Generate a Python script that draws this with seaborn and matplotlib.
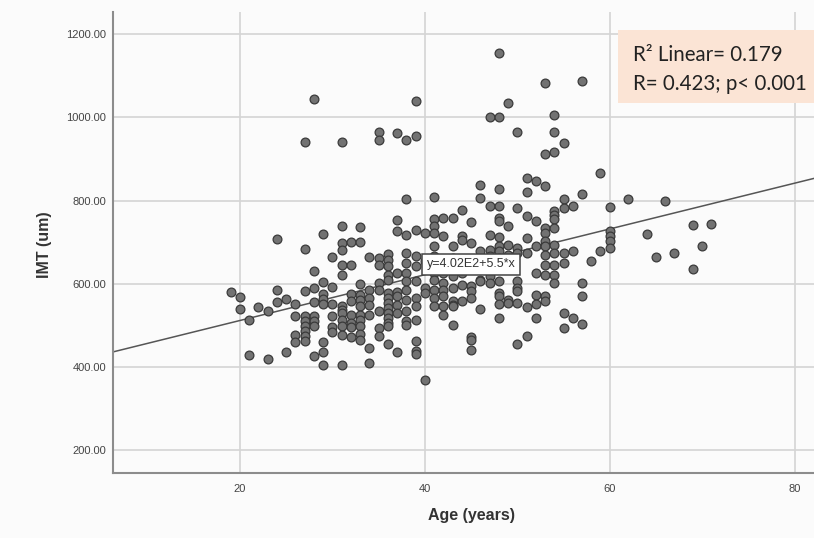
import numpy as np
import pandas as pd
import matplotlib
matplotlib.use("Agg")
import matplotlib.pyplot as plt
import seaborn as sns
from matplotlib.patches import Rectangle

# ==================================================
# Daten
# ==================================================
age_values = [19, 20, 21, 22, 23, 24, 25, 26, 27, 28, 29, 30, 31, 32, 33, 34, 35, 36, 37, 38,
              39, 40, 41, 42, 43, 44, 45, 46, 47, 48, 49, 50, 51, 52, 53, 54, 55, 56, 57, 58,
              59, 60, 62, 64, 65, 66, 67, 69, 70, 71]

imt_values = [
    [580],
    [568, 540],
    [512, 430],
    [545],
    [534, 419],
    [708, 586, 556],
    [564, 437],
    [552, 522, 478, 460],
    [940, 684, 583, 522, 510, 498, 486, 474, 462],
    [1044, 630, 591, 557, 522, 510, 498, 426],
    [720, 605, 576, 564, 552, 460, 436, 404],
    [664, 592, 551, 522, 496, 484],
    [940, 740, 698, 682, 645, 621, 546, 538, 530, 514, 498, 477, 404],
    [700, 645, 576, 560, 526, 506, 496, 472],
    [736, 701, 599, 574, 562, 546, 526, 512, 498, 480, 464],
    [664, 586, 566, 550, 524, 446, 410],
    [964, 947, 662, 645, 601, 586, 534, 494, 474],
    [672, 658, 642, 622, 610, 578, 566, 554, 542, 530, 518, 506, 498, 456],
    [962, 754, 728, 626, 580, 570, 550, 530, 436],
    [947, 804, 718, 674, 650, 626, 608, 586, 562, 534, 510, 502],
    [1040, 956, 730, 666, 642, 608, 566, 548, 514, 462, 438, 432],
    [722, 654, 590, 578, 369],
    [808, 756, 738, 722, 690, 666, 650, 626, 610, 586, 566, 546],
    [758, 714, 650, 626, 602, 586, 570, 546, 524],
    [758, 690, 662, 618, 590, 558, 550, 546, 500],
    [778, 714, 706, 626, 598, 558],
    [748, 698, 658, 594, 582, 566, 472, 464, 440],
    [838, 806, 678, 658, 610, 606, 540],
    [1000, 788, 718, 682, 666, 618, 602],
    [1156, 1000, 828, 788, 758, 750, 712, 690, 678, 662, 606, 578, 570, 552, 518],
    [1035, 738, 694, 670, 562, 554],
    [966, 782, 686, 674, 606, 590, 582, 554, 456],
    [855, 820, 762, 710, 674, 544, 474],
    [847, 750, 690, 626, 574, 552, 518],
    [1083, 912, 835, 734, 722, 702, 690, 670, 646, 622, 572, 560],
    [1006, 964, 916, 776, 766, 756, 734, 694, 674, 646, 622, 602],
    [938, 804, 782, 674, 650, 530, 494],
    [786, 680, 518],
    [1088, 816, 602, 572, 504],
    [654],
    [866, 678],
    [784, 726, 714, 702, 686],
    [804],
    [720],
    [665],
    [800],
    [674],
    [742, 636],
    [691],
    [744],
]

x_ticks = [20, 40, 60, 80]
y_ticks = [200, 400, 600, 800, 1000, 1200]

fit_intercept = 402.0
fit_slope = 5.5
fit_label = "y=4.02E2+5.5*x"
stats_line_1 = "R² Linear= 0.179"
stats_line_2 = "R= 0.423; p< 0.001"

df = pd.DataFrame({
    "Age": np.repeat(age_values, [len(v) for v in imt_values]),
    "IMT": np.concatenate([np.array(v, dtype=float) for v in imt_values]),
})

# ==================================================
# Plot
# ==================================================
sns.set_theme(style="whitegrid")
plt.rcParams["font.family"] = ["Liberation Sans", "DejaVu Sans"]

bg = "#FBFBFB"
fig = plt.figure(figsize=(8.14, 5.38), dpi=100, facecolor=bg)
ax = fig.add_axes([0.1388, 0.1208, 0.8612, 0.857])
ax.set_facecolor(bg)

ax.set_xlim(6.26, 82.1)
ax.set_ylim(145.4, 1253.6)

sns.scatterplot(data=df, x="Age", y="IMT", ax=ax, s=40, color="#727272",
                edgecolor="#3A3A3A", linewidth=0.9, zorder=3)

xs = np.array(ax.get_xlim())
ax.plot(xs, fit_intercept + fit_slope * xs, color="#555555", lw=1.1, zorder=2)

ax.text(45.0, 647, fit_label, ha="center", va="center", fontsize=9, color="#333333",
        zorder=4, bbox=dict(boxstyle="square,pad=0.35", facecolor="white",
                            edgecolor="#444444", linewidth=1.1))

ax.set_xticks(x_ticks)
ax.set_yticks(y_ticks)
ax.set_yticklabels([f"{v:.2f}" for v in y_ticks])
ax.tick_params(length=0, labelsize=8, labelcolor="#444444")
ax.tick_params(axis="x", pad=8)
ax.tick_params(axis="y", pad=5)
ax.grid(True, color="#D4D4D4", lw=1.2)
ax.set_axisbelow(True)

for side in ["top", "right"]:
    ax.spines[side].set_visible(False)
for side in ["left", "bottom"]:
    ax.spines[side].set_color("#8C8C8C")
    ax.spines[side].set_linewidth(1.5)

ax.set_xlabel("Age (years)", fontsize=11.5, fontweight="bold", color="#333333")
ax.set_ylabel("IMT (um)", fontsize=11.5, fontweight="bold", color="#333333")
ax.xaxis.set_label_coords(0.512, -0.076)
ax.yaxis.set_label_coords(-0.087, 0.495)

# Statistik-Box oben rechts
fig.add_artist(Rectangle((618 / 814, 1 - 103 / 538), 0.3, 73 / 538, transform=fig.transFigure,
                         facecolor="#FBE4D5", edgecolor="none", zorder=5))
fig.text(633 / 814, 1 - 61 / 538, stats_line_1, fontsize=14.8, family=["Lato", "DejaVu Sans"],
         color="#222222", va="baseline", zorder=6)
fig.text(633 / 814, 1 - 90 / 538, stats_line_2, fontsize=14.8, family=["Lato", "DejaVu Sans"],
         color="#222222", va="baseline", zorder=6)

fig.savefig("out.png", dpi=100, facecolor=bg)
